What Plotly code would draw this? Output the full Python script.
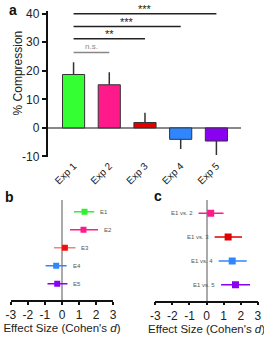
import plotly.graph_objects as go

# ---------------- Panel a data ----------------
categories = ["Exp 1", "Exp 2", "Exp 3", "Exp 4", "Exp 5"]
compression = [18.7, 15.1, 1.9, -4.0, -4.6]
compression_err = [4.3, 4.4, 3.4, 3.4, 4.9]
bar_colors = ["#33ff33", "#ff1a8c", "#e00000", "#2f86ff", "#8a00f0"]
y_ticks = [-10, 0, 10, 20, 30, 40]
y_ticktext = ["-10", "0", "10", "20", "30", "40"]

comp_start = [0, 0, 0, 0]
comp_end = [1, 2, 3, 4]
comp_y = [26.4, 31.2, 35.5, 40.0]
comp_label = ["n.s.", "**", "***", "***"]

# ---------------- Panel b data ----------------
b_labels = ["E1", "E2", "E3", "E4", "E5"]
b_d = [1.32, 1.26, 0.17, -0.34, -0.28]
b_lo = [0.70, 0.47, -0.47, -0.96, -0.85]
b_hi = [1.89, 2.11, 0.79, 0.27, 0.32]
b_rows = [5, 4, 3, 2, 1]
b_colors = ["#33ee33", "#ff1a8c", "#ee1111", "#2f86ff", "#8a00f0"]
b_err_colors = ["#33ee33", "#ff1a8c", "rgba(230,80,70,0.7)", "#2f86ff", "#8a00f0"]

# ---------------- Panel c data ----------------
c_labels = ["E1 vs. 2", "E1 vs. 3", "E1 vs. 4", "E1 vs. 5"]
c_d = [0.24, 1.26, 1.50, 1.69]
c_lo = [-0.47, 0.47, 0.71, 0.85]
c_hi = [0.99, 2.07, 2.35, 2.54]
c_rows = [4, 3, 2, 1]
c_colors = ["#ff1a8c", "#e00000", "#2f86ff", "#8a00f0"]

effect_ticks = [-3, -2, -1, 0, 1, 2, 3]
effect_ticktext = ["-3", "-2", "-1", "0", "1", "2", "3"]

FONT = "Arial, Liberation Sans, sans-serif"
W, H = 264, 338

fig = go.Figure()

# Panel a bars
xs = list(range(len(categories)))
fig.add_trace(go.Bar(
    x=xs, y=compression, width=0.62,
    marker=dict(color=bar_colors, line=dict(color="#333333", width=1)),
    error_y=dict(type="data", symmetric=False,
                 array=[e if v >= 0 else 0 for v, e in zip(compression, compression_err)],
                 arrayminus=[e if v < 0 else 0 for v, e in zip(compression, compression_err)],
                 color="#333333", thickness=1.5, width=0),
    xaxis="x", yaxis="y", showlegend=False,
))

shapes = []
annotations = []
for s, e, yv, lab in zip(comp_start, comp_end, comp_y, comp_label):
    col = "#888888" if lab == "n.s." else "#222222"
    shapes.append(dict(type="line", xref="x", yref="y", x0=s, x1=e, y0=yv, y1=yv,
                       line=dict(color=col, width=1.5)))
    annotations.append(dict(x=(s + e) / 2, y=yv, xref="x", yref="y", text=lab,
                            showarrow=False, yanchor="bottom", yshift=-3 if lab != "n.s." else 0,
                            font=dict(family=FONT, size=8 if lab == "n.s." else 11,
                                      color="#888888" if lab == "n.s." else "#222222")))

# Panel b
for i in range(len(b_labels)):
    fig.add_trace(go.Scatter(
        x=[b_d[i]], y=[b_rows[i]], mode="markers",
        marker=dict(symbol="square", size=6, color=b_colors[i]),
        error_x=dict(type="data", symmetric=False,
                     array=[b_hi[i] - b_d[i]], arrayminus=[b_d[i] - b_lo[i]],
                     color=b_err_colors[i], thickness=1.5, width=0),
        xaxis="x2", yaxis="y2", showlegend=False,
    ))
    annotations.append(dict(x=b_hi[i], y=b_rows[i], xref="x2", yref="y2", text=b_labels[i],
                            showarrow=False, xanchor="left", xshift=4,
                            font=dict(family=FONT, size=6, color="#555555")))

# Panel c
for i in range(len(c_labels)):
    fig.add_trace(go.Scatter(
        x=[c_d[i]], y=[c_rows[i]], mode="markers",
        marker=dict(symbol="square", size=7, color=c_colors[i]),
        error_x=dict(type="data", symmetric=False,
                     array=[c_hi[i] - c_d[i]], arrayminus=[c_d[i] - c_lo[i]],
                     color=c_colors[i], thickness=1.5, width=0),
        xaxis="x3", yaxis="y3", showlegend=False,
    ))
    annotations.append(dict(x=c_lo[i], y=c_rows[i], xref="x3", yref="y3", text=c_labels[i],
                            showarrow=False, xanchor="right", xshift=-4,
                            font=dict(family=FONT, size=6, color="#555555")))

# Panel letters
for txt, px, py in [("a", 8, 6), ("b", 5, 199), ("c", 158, 198)]:
    annotations.append(dict(x=px / W, y=1 - py / H, xref="paper", yref="paper", text=f"<b>{txt}</b>",
                            showarrow=False, xanchor="center", yanchor="middle",
                            font=dict(family=FONT, size=14, color="#111111")))

# y-axis title of panel a
annotations.append(dict(x=13 / W, y=1 - 71 / H, xref="paper", yref="paper", text="% Compression",
                        showarrow=False, textangle=-90, xanchor="center", yanchor="middle",
                        font=dict(family=FONT, size=12, color="#222222")))

tickfont = dict(family=FONT, size=12, color="#222222")

fig.update_layout(
    width=W, height=H, margin=dict(l=0, r=0, t=0, b=0),
    paper_bgcolor="white", plot_bgcolor="white",
    font=dict(family=FONT, color="#222222"),
    shapes=shapes, annotations=annotations,
    xaxis=dict(domain=[44 / W, 244 / W], range=[-0.73, 4.68],
               tickvals=xs, ticktext=categories, tickangle=-45,
               tickfont=dict(family=FONT, size=10, color="#222222"),
               showline=False, showgrid=False, zeroline=False, ticks=""),
    yaxis=dict(domain=[1 - 158 / H, 1 - 7.6 / H], range=[-10.3, 40.8],
               tickvals=y_ticks, ticktext=y_ticktext, tickfont=tickfont,
               showline=True, linecolor="#111111", linewidth=1.5,
               ticks="outside", ticklen=4, tickcolor="#111111", tickwidth=1.5,
               showgrid=False, zeroline=True, zerolinecolor="#888888", zerolinewidth=1.5),
    xaxis2=dict(domain=[6 / W, 112 / W], range=[-3, 3], anchor="y2",
                tickvals=effect_ticks, ticktext=effect_ticktext, tickfont=tickfont,
                showline=True, linecolor="#111111", linewidth=1.5,
                ticks="outside", ticklen=3, tickcolor="#111111", tickwidth=1.5,
                showgrid=False, zeroline=True, zerolinecolor="#aaaaaa", zerolinewidth=1.5,
                title=dict(text="Effect Size (Cohen's <i>d</i>)",
                           font=dict(family=FONT, size=11.5, color="#222222"), standoff=2)),
    yaxis2=dict(domain=[1 - 305 / H, 1 - 202 / H], range=[0.1, 5.65], anchor="x2",
                visible=False),
    xaxis3=dict(domain=[155.6 / W, 261.8 / W], range=[-3, 3], anchor="y3",
                tickvals=effect_ticks, ticktext=effect_ticktext, tickfont=tickfont,
                showline=True, linecolor="#111111", linewidth=1.5,
                ticks="outside", ticklen=3, tickcolor="#111111", tickwidth=1.5,
                showgrid=False, zeroline=True, zerolinecolor="#aaaaaa", zerolinewidth=1.5,
                title=dict(text="Effect Size (Cohen's <i>d</i>)",
                           font=dict(family=FONT, size=11.5, color="#222222"), standoff=2)),
    yaxis3=dict(domain=[1 - 305.7 / H, 1 - 201.7 / H], range=[0.33, 4.57], anchor="x3",
                visible=False),
)

fig.write_html("out.html")
